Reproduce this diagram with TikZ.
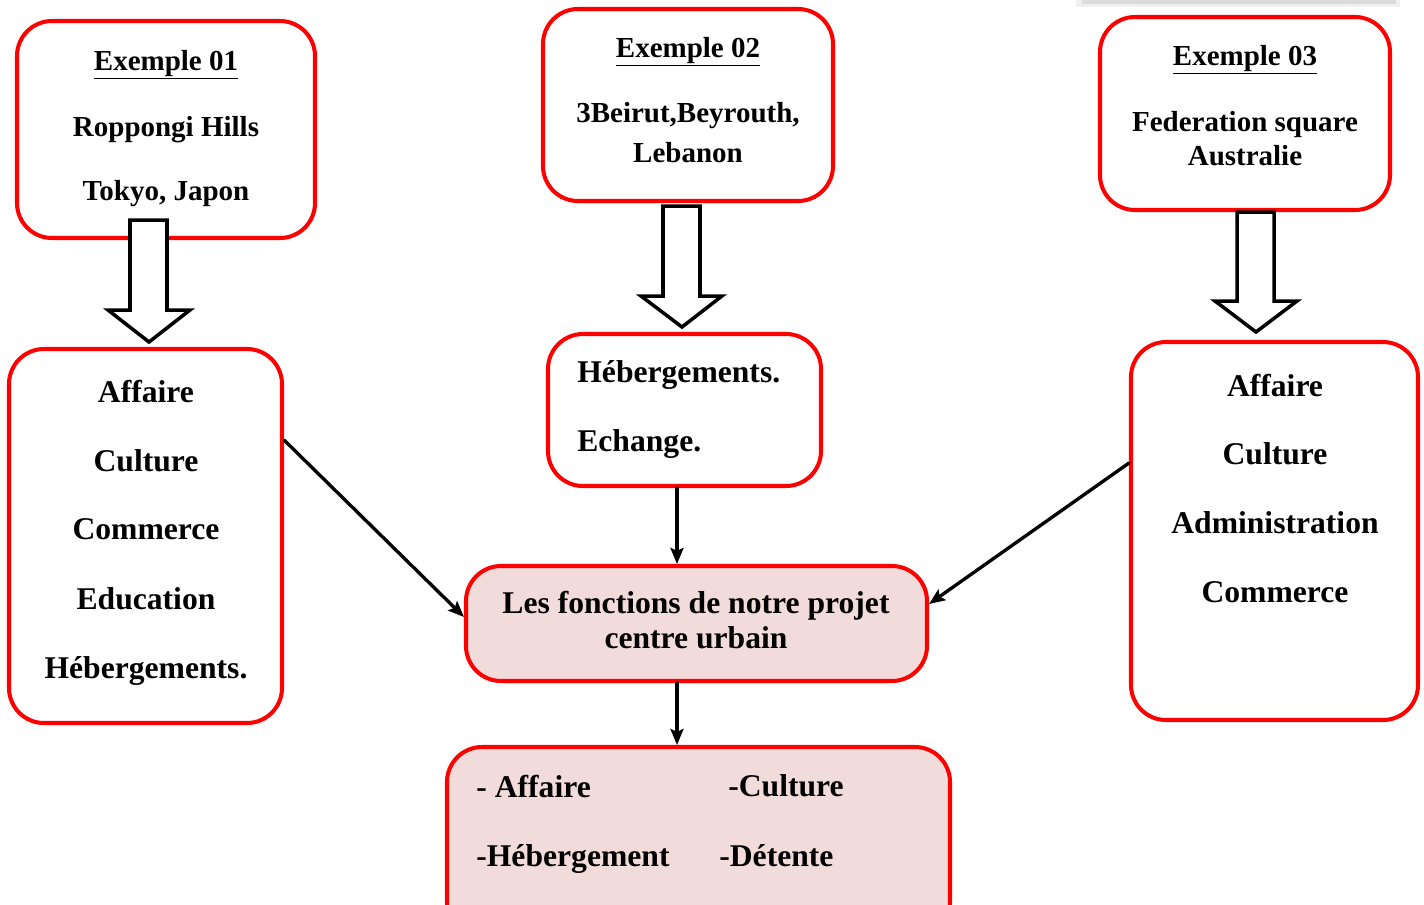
\documentclass[tikz,border=0pt]{standalone}
\usepackage{fontspec}
\setmainfont{Liberation Serif}
\usepackage{tikz}
\usetikzlibrary{arrows.meta}
\usepackage{xcolor}
\definecolor{boxpink}{HTML}{F2DCDB}

\begin{document}
\begin{tikzpicture}[x=0.02cm,y=-0.02cm,>={Stealth[length=3.2mm,width=2.6mm,inset=0.6mm]},
  font=\bfseries,line cap=round,
  box/.style={draw=red,line width=2.3pt,rounded corners=0.7cm,inner sep=0pt},
  pinkbox/.style={box,fill=boxpink},
  txt/.style={font=\fontsize{16.5}{19}\selectfont\bfseries,inner sep=0pt,text depth=0pt},
  bigtxt/.style={font=\fontsize{18}{21}\selectfont\bfseries,inner sep=0pt,text depth=0pt},
  fntxt/.style={font=\fontsize{18}{21}\selectfont\bfseries,inner sep=0pt,align=center},
  conn/.style={->,line width=1.9pt},
  blockarr/.style={draw=black,line width=2pt,fill=white,line join=miter}]
\useasboundingbox (0,0) rectangle (1424,904);
\clip (0,0) rectangle (1424,904);
% faint shadow at the top
\fill[gray!12] (1076,0) rectangle (1400,7);
\fill[gray!28] (1082,0) rectangle (1396,4);
% example boxes
\node[box,minimum width=298*0.02cm,minimum height=217*0.02cm] (ex1) at (166,129.5) {};
\node[box,minimum width=290*0.02cm,minimum height=192*0.02cm] (ex2) at (688,105) {};
\node[box,minimum width=290*0.02cm,minimum height=193*0.02cm] (ex3) at (1245,113.5) {};
\node[txt] (t1a) at (166,60) {\underline{Exemple 01}};
\node[txt] (t1b) at (166,126) {Roppongi Hills};
\node[txt] (t1c) at (166,190) {Tokyo, Japon};
\node[txt] (t2a) at (688,47) {\underline{Exemple 02}};
\node[txt] (t2b) at (688,112) {3Beirut,Beyrouth,};
\node[txt] (t2c) at (688,152) {Lebanon};
\node[txt] (t3a) at (1245,55) {\underline{Exemple 03}};
\node[txt] (t3b) at (1245,121) {Federation square};
\node[txt] (t3c) at (1245,155) {Australie};
% function boxes
\node[box,minimum width=273*0.02cm,minimum height=374*0.02cm] (lst1) at (145.5,536) {};
\node[box,minimum width=273*0.02cm,minimum height=152*0.02cm] (lst2) at (684.5,410) {};
\node[box,minimum width=287*0.02cm,minimum height=378*0.02cm] (lst3) at (1274.5,531) {};
\node[bigtxt] (l1a) at (146,391) {Affaire};
\node[bigtxt] (l1b) at (146,461) {Culture};
\node[bigtxt] (l1c) at (146,529) {Commerce};
\node[bigtxt] (l1d) at (146,599) {Education};
\node[bigtxt] (l1e) at (146,667) {Hébergements.};
\node[bigtxt,anchor=west] (l2a) at (577,372) {Hébergements.};
\node[bigtxt,anchor=west] (l2b) at (577,441) {Echange.};
\node[bigtxt] (l3a) at (1275,385) {Affaire};
\node[bigtxt] (l3b) at (1275,454) {Culture};
\node[bigtxt] (l3c) at (1275,523) {Administration};
\node[bigtxt] (l3d) at (1275,592) {Commerce};
% project boxes
\node[pinkbox,minimum width=461*0.02cm,minimum height=115*0.02cm] (fn) at (696.5,623.5) {};
\node[fntxt] (fnt) at (696,620) {Les fonctions de notre projet\\[-1pt]centre urbain};
\node[pinkbox,minimum width=503*0.02cm,minimum height=190*0.02cm] (res) at (698.5,842) {};
\node[bigtxt,anchor=west] (r1) at (476,786) {- Affaire};
\node[bigtxt,anchor=west] (r2) at (728,786) {-Culture};
\node[bigtxt,anchor=west] (r3) at (476,855) {-Hébergement};
\node[bigtxt,anchor=west] (r4) at (719,855) {-Détente};
% block arrows
\draw[blockarr] (130,220) -- (167,220) -- (167,310) -- (190,310) -- (149,342) -- (108,310) -- (130,310) -- cycle;
\draw[blockarr] (663,206) -- (700,206) -- (700,296) -- (722,296) -- (682,327) -- (641,296) -- (663,296) -- cycle;
\draw[blockarr] (1237,212) -- (1274,212) -- (1274,301) -- (1297,301) -- (1256,332) -- (1215,301) -- (1237,301) -- cycle;
% connectors
\draw[conn] (lst1.east |- 0,440) -- (fn.west |- 0,617);
\draw[conn] (lst2.south -| 677,0) -- (fn.north -| 677,0);
\draw[conn] (lst3.west |- 0,463) -- (fn.east |- 0,604);
\draw[conn] (fn.south -| 677,0) -- (res.north -| 677,0);
\end{tikzpicture}
\end{document}
